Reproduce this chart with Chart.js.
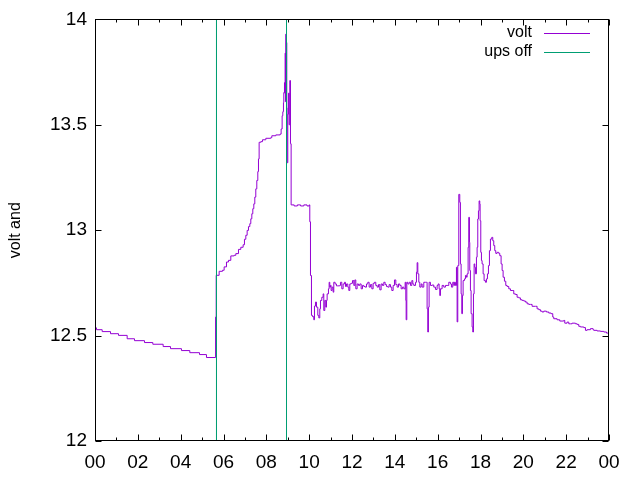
<!DOCTYPE html>
<html lang="en">
<head>
    <meta charset="UTF-8">
    <title>volt and ups off</title>
    <script src="https://cdn.jsdelivr.net/npm/chart.js"></script>
    <style>
        body { margin: 0; padding: 0; background: #fff; }
        #wrap { width: 640px; height: 480px; }
    </style>
</head>
<body>
    <div id="wrap"><canvas id="voltChart" width="640" height="480"></canvas></div>

    <script>
        // readings over one day (hour of day -> volts)
        const voltHours = [
            0, 0.070, 0.335, 0.724, 1.097, 1.502, 1.844, 2.311, 2.700, 3.182, 3.525, 4.038, 4.427, 4.879, 5.205, 5.630, 5.660,
            5.797, 5.952, 6.030, 6.139, 6.232, 6.341, 6.497, 6.575, 6.699, 6.808, 6.917, 6.979, 7.042, 7.104, 7.166, 7.228,
            7.275, 7.322, 7.368, 7.415, 7.462, 7.508, 7.555, 7.602, 7.633, 7.664, 7.742, 7.820, 7.976, 8.209, 8.256, 8.442,
            8.645, 8.691, 8.738, 8.769, 8.800, 8.815, 8.847, 8.862, 8.878, 8.893, 8.909, 8.925, 8.940, 8.956, 8.971, 9.002,
            9.033, 9.064, 9.095, 9.127, 9.158,
            9.300, 9.450, 9.600, 9.750, 9.900, 10.000, 10.029, 10.061, 10.107, 10.154, 10.216, 10.247, 10.294, 10.341, 10.403,
            10.450, 10.496, 10.527, 10.590, 10.652, 10.683, 10.730, 10.776, 10.808, 10.839,
            10.901, 10.932, 10.963, 10.994, 11.025, 11.072, 11.119, 11.150, 11.212, 11.274, 11.337, 11.430, 11.461, 11.524,
            11.586, 11.648, 11.695, 11.742, 11.804, 11.851, 11.897, 11.960, 12.022, 12.084, 12.131, 12.178, 12.240, 12.302,
            12.364, 12.427, 12.489, 12.551, 12.613, 12.676, 12.738, 12.800, 12.862, 12.925, 12.987, 13.049, 13.111, 13.174,
            13.236, 13.298, 13.360, 13.423, 13.485, 13.547, 13.609, 13.672, 13.734, 13.796, 13.858, 13.921, 13.983, 14.045,
            14.107, 14.170, 14.232, 14.294, 14.356, 14.419, 14.481, 14.512, 14.528, 14.559, 14.606, 14.668, 14.730, 14.793,
            14.839, 14.886, 14.964, 15.010, 15.041, 15.073, 15.119, 15.166,
            15.227, 15.274, 15.352, 15.430, 15.476, 15.507, 15.538, 15.569, 15.601, 15.663, 15.741, 15.818, 15.896, 15.974,
            16.021, 16.068, 16.099, 16.130, 16.208, 16.285, 16.363, 16.441, 16.519, 16.597, 16.643, 16.705, 16.752, 16.783, 16.830,
            16.877, 16.908, 16.939, 16.986, 17.032, 17.063, 17.095, 17.126, 17.157, 17.188, 17.250, 17.297, 17.344, 17.375,
            17.422, 17.452, 17.484, 17.499, 17.530, 17.562, 17.608, 17.639, 17.671, 17.702, 17.733, 17.764, 17.811, 17.842,
            17.873, 17.904, 17.935, 17.966, 17.982, 18.013, 18.044, 18.075, 18.122, 18.168, 18.231, 18.277, 18.324, 18.371,
            18.417, 18.464, 18.526, 18.573, 18.619, 18.666, 18.713, 18.775, 18.853, 18.900, 18.962, 19.009, 19.056, 19.118,
            19.180, 19.242, 19.320, 19.398, 19.476, 19.553, 19.631, 19.709, 19.786, 19.864, 19.942, 20.020, 20.098, 20.176, 20.254,
            20.331, 20.409, 20.565, 20.642, 20.720, 20.798, 20.876, 20.954, 21.078, 21.187, 21.296, 21.374, 21.420, 21.576,
            21.701, 21.888, 21.934, 22.043, 22.121, 22.199, 22.277, 22.433, 22.511, 22.589, 22.666, 22.822, 22.900, 22.978,
            23.134, 23.258, 23.289, 23.445, 23.601, 23.757, 23.882, 23.991
        ];
        const voltValues = [
            12.537, 12.528, 12.519, 12.509, 12.501, 12.485, 12.476, 12.467, 12.459, 12.448, 12.438, 12.429, 12.419, 12.410, 12.396, 12.588, 12.786,
            12.805, 12.810, 12.826, 12.849, 12.857, 12.878, 12.881, 12.889, 12.909, 12.919, 12.931, 12.957, 12.976, 12.999, 13.017, 13.031,
            13.054, 13.078, 13.102, 13.125, 13.157, 13.196, 13.236, 13.278, 13.338, 13.417, 13.420, 13.429, 13.436, 13.439, 13.448, 13.452,
            13.456, 13.480, 13.543, 13.562, 13.606, 13.653, 13.700, 13.650, 13.840, 13.610, 13.930, 13.650, 13.890, 13.580, 13.320, 13.550,
            13.650, 13.500, 13.710, 13.410, 13.120,
            13.115, 13.120, 13.115, 13.120, 13.115, 13.120, 13.040, 12.785, 12.596, 12.590, 12.575, 12.640, 12.659, 12.635, 12.596,
            12.584, 12.627, 12.667, 12.682, 12.698, 12.619, 12.667, 12.635, 12.667, 12.698,
            12.722, 12.753, 12.730, 12.738, 12.714, 12.730, 12.706, 12.753, 12.745, 12.736, 12.736, 12.738, 12.753, 12.722,
            12.745, 12.753, 12.733, 12.745, 12.730, 12.714, 12.745, 12.748, 12.761, 12.738, 12.764, 12.722, 12.745, 12.738,
            12.745, 12.722, 12.738, 12.733, 12.730, 12.745, 12.753, 12.730, 12.742, 12.722, 12.748, 12.753, 12.738, 12.730,
            12.742, 12.717, 12.745, 12.738, 12.753, 12.742, 12.733, 12.730, 12.742, 12.730, 12.714, 12.738, 12.764, 12.742,
            12.730, 12.745, 12.738, 12.722, 12.730, 12.722, 12.753, 12.667, 12.575, 12.753, 12.745, 12.753, 12.738, 12.761,
            12.745, 12.738, 12.753, 12.801, 12.846, 12.793, 12.753, 12.730,
            12.745, 12.730, 12.753, 12.753, 12.753, 12.627, 12.517, 12.635, 12.753, 12.738, 12.740, 12.730, 12.719, 12.738,
            12.745, 12.722, 12.690, 12.722, 12.738, 12.730, 12.738, 12.738, 12.753, 12.745, 12.730, 12.753, 12.738, 12.753, 12.738,
            12.824, 12.565, 12.832, 13.170, 13.132, 12.840, 12.698, 12.604, 12.690, 12.761, 12.769, 12.785, 12.777, 12.793,
            12.919, 13.061, 12.942, 12.809, 12.714, 12.604, 12.541, 12.517, 12.698, 12.840, 12.824, 12.793, 12.872, 12.919,
            13.053, 13.092, 13.139, 13.124, 13.045, 12.895, 12.856, 12.840, 12.793, 12.761, 12.753, 12.769, 12.793, 12.832,
            12.903, 12.958, 12.966, 12.950, 12.927, 12.903, 12.890, 12.895, 12.890, 12.879, 12.840, 12.809, 12.777, 12.758,
            12.738, 12.733, 12.722, 12.714, 12.714, 12.698, 12.695, 12.682, 12.679, 12.670, 12.667, 12.664, 12.659, 12.651, 12.648,
            12.648, 12.639, 12.639, 12.627, 12.623, 12.616, 12.612, 12.616, 12.612, 12.607, 12.604, 12.588, 12.580, 12.575,
            12.569, 12.572, 12.559, 12.564, 12.556, 12.556, 12.559, 12.556, 12.553, 12.544, 12.541, 12.538, 12.525, 12.528,
            12.533, 12.528, 12.525, 12.522, 12.520, 12.517, 12.512, 12.509
        ];

        // ups off flag, its levels sit outside the volt range
        const upsHours = [0, 5.673, 5.673, 8.942, 8.942, 24];
        const upsValues = [20, 20, 6, 6, 20, 20];

        const hourTicks = [0, 2, 4, 6, 8, 10, 12, 14, 16, 18, 20, 22, 24];
        const voltTicks = [12, 12.5, 13, 13.5, 14];

        const fontFamily = '"Liberation Sans", Arial, sans-serif';

        function toPoints(xs, ys) {
            return xs.map((x, i) => ({ x: x, y: ys[i] }));
        }

        function hourLabel(v) {
            if (!hourTicks.includes(v)) return '';
            const h = v % 24;
            return (h < 10 ? '0' : '') + h;
        }

        // gnuplot style frame with inward, mirrored ticks
        const frame = {
            id: 'frame',
            afterDraw(chart) {
                const ctx = chart.ctx;
                const a = chart.chartArea;
                const xs = chart.scales.x, ys = chart.scales.y;
                const L = Math.round(a.left) + 0.5, R = Math.round(a.right) - 0.5;
                const T = Math.round(a.top) + 0.5, B = Math.round(a.bottom) - 0.5;
                ctx.save();
                ctx.strokeStyle = '#000';
                ctx.lineWidth = 1;
                ctx.beginPath();
                xs.ticks.forEach(t => {
                    const px = Math.round(xs.getPixelForValue(t.value)) + 0.5;
                    const len = hourTicks.includes(t.value) ? 6 : 3;
                    ctx.moveTo(px, B); ctx.lineTo(px, B - len);
                    ctx.moveTo(px, T); ctx.lineTo(px, T + len);
                });
                ys.ticks.forEach(t => {
                    const py = Math.round(ys.getPixelForValue(t.value)) + 0.5;
                    ctx.moveTo(L, py); ctx.lineTo(L + 6, py);
                    ctx.moveTo(R, py); ctx.lineTo(R - 6, py);
                });
                ctx.stroke();
                ctx.strokeRect(L, T, R - L, B - T);
                ctx.restore();
            }
        };

        // key in the top right corner: text first, then a line sample
        const keyBox = {
            id: 'keyBox',
            afterDraw(chart) {
                const ctx = chart.ctx;
                ctx.save();
                ctx.font = '16px ' + fontFamily;
                ctx.textAlign = 'right';
                ctx.textBaseline = 'middle';
                chart.data.datasets.forEach((ds, i) => {
                    const y = 33 + i * 19;
                    ctx.fillStyle = '#000';
                    ctx.fillText(ds.label, 532, y);
                    ctx.strokeStyle = ds.borderColor;
                    ctx.lineWidth = 1;
                    ctx.beginPath();
                    ctx.moveTo(544, y + 0.5);
                    ctx.lineTo(590, y + 0.5);
                    ctx.stroke();
                });
                ctx.restore();
            }
        };

        new Chart(document.getElementById('voltChart'), {
            type: 'line',
            data: {
                datasets: [
                    {
                        label: 'volt',
                        data: toPoints(voltHours, voltValues),
                        borderColor: '#9400d3',
                        borderWidth: 1,
                        pointRadius: 0,
                        stepped: true,
                        order: 1
                    },
                    {
                        label: 'ups off',
                        data: toPoints(upsHours, upsValues),
                        borderColor: '#009e73',
                        borderWidth: 1,
                        pointRadius: 0,
                        order: 0
                    }
                ]
            },
            options: {
                responsive: false,
                animation: false,
                devicePixelRatio: 1,
                layout: { padding: { top: 18, right: 31, left: 0, bottom: 0 } },
                plugins: {
                    legend: { display: false },
                    tooltip: { enabled: false }
                },
                scales: {
                    x: {
                        type: 'linear',
                        min: 0,
                        max: 24,
                        grid: { display: false, drawTicks: false },
                        border: { display: false },
                        ticks: {
                            stepSize: 1,
                            autoSkip: false,
                            maxRotation: 0,
                            padding: 10,
                            color: '#000',
                            font: { family: fontFamily, size: 19 },
                            callback: v => hourLabel(v)
                        },
                        afterFit: s => { s.height = 39; }
                    },
                    y: {
                        min: 12,
                        max: 14,
                        grid: { display: false, drawTicks: false },
                        border: { display: false },
                        title: {
                            display: true,
                            text: 'volt and',
                            color: '#000',
                            font: { family: fontFamily, size: 16 },
                            padding: { top: 6, bottom: 4 }
                        },
                        ticks: {
                            stepSize: 0.5,
                            padding: 8,
                            color: '#000',
                            font: { family: fontFamily, size: 19 },
                            callback: v => voltTicks.includes(v) ? String(v) : ''
                        },
                        afterFit: s => { s.width = 95; }
                    }
                }
            },
            plugins: [frame, keyBox]
        });
    </script>
</body>
</html>
